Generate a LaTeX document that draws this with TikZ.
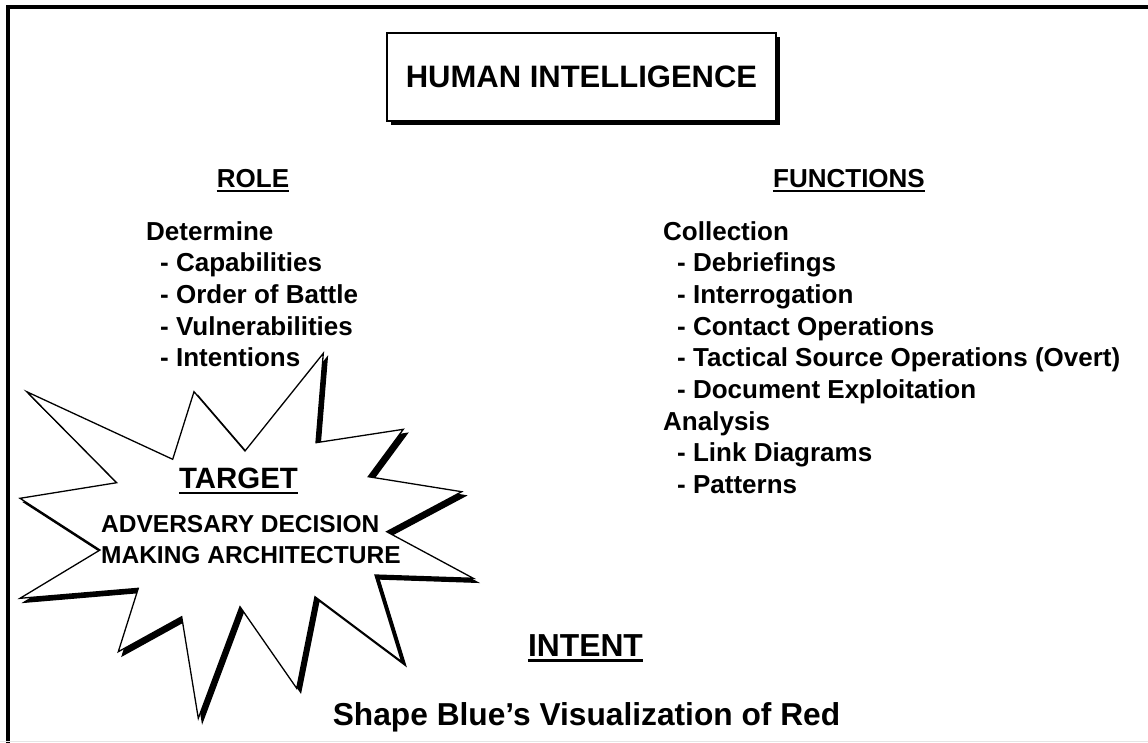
\documentclass[tikz,border=0pt]{standalone}
\usepackage{fontspec}
\setmainfont{Liberation Sans}
\usetikzlibrary{shadows}

\tikzset{
  head/.style={anchor=base, inner sep=0pt, font=\fontsize{26}{31}\selectfont\bfseries},
  list/.style={anchor=base west, align=left, inner sep=0pt, font=\fontsize{26}{31.7}\selectfont\bfseries},
  uline/.style={line width=2pt},
}
\newcommand{\ind}{\hspace*{14pt}}

\begin{document}
\begin{tikzpicture}[x=1pt, y=-1pt]
\useasboundingbox (0,0) rectangle (1148,742);
% frame
\draw[line width=4pt] (8,745) -- (8,7) -- (1150,7);
\draw[gray!20, line width=1.5pt] (0,741.5) -- (1148,741.5);

% title
\node[draw, line width=1.3pt, fill=white, minimum width=389pt, minimum height=88pt,
      font=\fontsize{31}{36}\selectfont\bfseries,
      drop shadow={shadow xshift=4pt, shadow yshift=-4pt, fill=black, opacity=1}]
      (title) at (581.5,77) {HUMAN INTELLIGENCE};

% columns (lists sit on the baseline of their last line)
\node[head] (role) at (253,187) {ROLE};
\draw[uline] ([yshift=-4pt]role.base west) -- ([yshift=-4pt]role.base east);
\node[head] (functions) at (849,187) {FUNCTIONS};
\draw[uline] ([yshift=-4pt]functions.base west) -- ([yshift=-4pt]functions.base east);

\node[list] (determine) at (146,366.8) {Determine\\
  \ind- Capabilities\\
  \ind- Order of Battle\\
  \ind- Vulnerabilities\\
  \ind- Intentions};
\node[list] (collection) at (663,493.6) {Collection\\
  \ind- Debriefings\\
  \ind- Interrogation\\
  \ind- Contact Operations\\
  \ind- Tactical Source Operations (Overt)\\
  \ind- Document Exploitation\\
  Analysis\\
  \ind- Link Diagrams\\
  \ind- Patterns};

% starburst, shadow first
\foreach \d/\c in {4/black, 0/white}
  \filldraw[fill=\c, draw=black, line width=1.3pt, line join=miter, shift={(\d,\d)}]
    (323.3,353.3) -- (316,442.7) -- (403.3,429.3) -- (368.3,476.7) -- (461.7,491.7)
    -- (386.7,531.7) -- (473.3,578.3) -- (375,575) -- (401.7,661.7) -- (315,596.7)
    -- (296.7,688.3) -- (240,606.7) -- (198.3,718.3) -- (181.7,616.7) -- (118.3,651.7)
    -- (138.3,588.3) -- (20,598.3) -- (100,550) -- (20,498.3) -- (116.7,482.7)
    -- (26.7,391.7) -- (172.7,459.3) -- (194,391.7) -- (245,451) -- cycle;

\node[anchor=base, inner sep=0pt, font=\fontsize{29.4}{34}\selectfont\bfseries]
  (target) at (238.5,488) {TARGET};
\draw[line width=2.5pt] ([yshift=-5pt]target.base west) -- ([yshift=-5pt]target.base east);
\node[anchor=base west, align=left, inner sep=0pt, font=\fontsize{24.5}{31}\selectfont\bfseries]
  (adversary) at (101,563) {ADVERSARY DECISION\\MAKING ARCHITECTURE};

% intent
\node[anchor=base, inner sep=0pt, font=\fontsize{31.8}{36}\selectfont\bfseries]
  (intent) at (585.5,656) {INTENT};
\draw[line width=3pt] ([yshift=-4.5pt]intent.base west) -- ([yshift=-4.5pt]intent.base east);
\node[anchor=base, inner sep=0pt, font=\fontsize{31.7}{36}\selectfont\bfseries]
  (shape) at (586.5,725) {Shape Blue’s Visualization of Red};
\end{tikzpicture}
\end{document}
